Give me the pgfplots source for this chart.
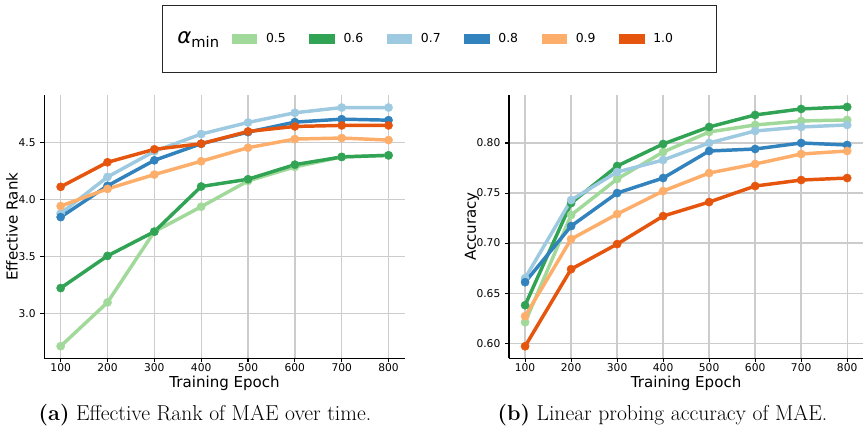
\documentclass[border=0pt]{standalone}
\usepackage{fontspec}
\usepackage{pgfplots}
\usepackage{pgfplotstable}
\pgfplotsset{compat=1.18}
\newfontfamily\dv{DejaVu Sans}

\definecolor{c05}{HTML}{A1D99B}
\definecolor{c06}{HTML}{31A354}
\definecolor{c07}{HTML}{9ECAE1}
\definecolor{c08}{HTML}{3182BD}
\definecolor{c09}{HTML}{FDAE6B}
\definecolor{c10}{HTML}{E6550D}

% effective rank (left panel)
\pgfplotstableread{
epoch a05 a06 a07 a08 a09 a10
100 2.711 3.222 3.878 3.846 3.943 4.112
200 3.096 3.505 4.199 4.121 4.094 4.328
300 3.718 3.718 4.424 4.345 4.220 4.442
400 3.937 4.115 4.576 4.491 4.337 4.491
500 4.164 4.179 4.678 4.593 4.456 4.599
600 4.287 4.307 4.763 4.681 4.532 4.643
700 4.375 4.375 4.809 4.707 4.541 4.652
800 4.389 4.389 4.809 4.698 4.523 4.652
}\rankdata

% linear probing accuracy (right panel)
\pgfplotstableread{
epoch a05 a06 a07 a08 a09 a10
100 0.621 0.638 0.665 0.661 0.627 0.597
200 0.728 0.740 0.743 0.717 0.704 0.674
300 0.764 0.777 0.771 0.750 0.729 0.699
400 0.791 0.799 0.783 0.765 0.752 0.727
500 0.811 0.816 0.800 0.792 0.770 0.741
600 0.818 0.828 0.812 0.794 0.779 0.757
700 0.822 0.834 0.816 0.800 0.789 0.763
800 0.823 0.836 0.818 0.798 0.792 0.765
}\accdata

\pgfplotsset{
  panel/.style={
    scale only axis,
    height=197.5pt,
    axis x line*=bottom, axis y line*=left,
    axis line style={line width=0.8pt, -},
    xmin=65, xmax=835,
    xtick={100,200,...,800},
    grid=major,
    major grid style={black!20, line width=1pt},
    tick align=outside, major tick length=3pt,
    tick style={black, line width=0.8pt},
    font=\dv\fontsize{8}{9.5}\selectfont,
    label style={font=\dv\fontsize{11.3}{13}\selectfont},
    /pgf/number format/assume math mode=true,
    xticklabel style={inner ysep=1pt},
    yticklabel style={/pgf/number format/fixed, /pgf/number format/fixed zerofill},
    xlabel={Training Epoch},
    xlabel style={at={(axis description cs:0.5,-0.067)}, anchor=north, inner sep=0pt},
    every axis plot/.append style={line width=2.6pt, mark=*, mark size=3.1pt,
      mark options={line width=0.3pt}},
  },
}

\begin{document}
\begin{tikzpicture}
\useasboundingbox (0,0) rectangle (648pt,321pt);

\begin{axis}[panel,
    at={(33.2pt,52.3pt)}, anchor=south west,
    width=270.5pt,
    ymin=2.605, ymax=4.92,
    ytick={3.0,3.5,4.0,4.5},
    yticklabel style={/pgf/number format/precision=1},
    ylabel={Effective Rank},
    ylabel style={at={(axis description cs:-0.0896,0.5)}, anchor=center},
    legend columns=7,
    legend style={at={(0.3255,1.2127)}, anchor=west,
      draw=black!85, line width=0.6pt,
      font=\dv\fontsize{9.3}{11}\selectfont,
      nodes={inner sep=0pt},
      inner xsep=5pt, inner ysep=20pt,
      /tikz/every odd column/.append style={column sep=6.5pt},
      /tikz/every even column/.append style={column sep=17.6pt}},
    legend image code/.code={\fill[#1, draw=none] (0pt,-3.75pt) rectangle (19.2pt,3.75pt);},
  ]
  \addlegendimage{empty legend}
  \addlegendentry{{\fontsize{16}{17}\selectfont\itshape α}\raisebox{-0.5ex}{\fontsize{11}{12}\selectfont min}\kern-8.1pt}
  \addplot[color=c05] table[x=epoch, y=a05] {\rankdata};
  \addlegendentry{0.5}
  \addplot[color=c06] table[x=epoch, y=a06] {\rankdata};
  \addlegendentry{0.6}
  \addplot[color=c07] table[x=epoch, y=a07] {\rankdata};
  \addlegendentry{0.7}
  \addplot[color=c08] table[x=epoch, y=a08] {\rankdata};
  \addlegendentry{0.8}
  \addplot[color=c09] table[x=epoch, y=a09] {\rankdata};
  \addlegendentry{0.9}
  \addplot[color=c10] table[x=epoch, y=a10] {\rankdata};
  \addlegendentry{1.0\rule{27.8pt}{0pt}}
\end{axis}

\begin{axis}[panel,
    at={(381.75pt,52.3pt)}, anchor=south west,
    width=265.7pt,
    ymin=0.585, ymax=0.848,
    ytick={0.60,0.65,0.70,0.75,0.80},
    yticklabel style={/pgf/number format/precision=2},
    ylabel={Accuracy},
    ylabel style={at={(axis description cs:-0.1044,0.5)}, anchor=center},
  ]
  \addplot[color=c05] table[x=epoch, y=a05] {\accdata};
  \addplot[color=c06] table[x=epoch, y=a06] {\accdata};
  \addplot[color=c07] table[x=epoch, y=a07] {\accdata};
  \addplot[color=c08] table[x=epoch, y=a08] {\accdata};
  \addplot[color=c09] table[x=epoch, y=a09] {\accdata};
  \addplot[color=c10] table[x=epoch, y=a10] {\accdata};
\end{axis}

\node[font=\fontsize{16.2}{18}\selectfont, anchor=base] at (153.75pt,5.25pt) {\textbf{(a)} Effective Rank of MAE over time.};
\node[font=\fontsize{16.2}{18}\selectfont, anchor=base] at (496.9pt,5.25pt) {\textbf{(b)} Linear probing accuracy of MAE.};
\end{tikzpicture}
\end{document}
